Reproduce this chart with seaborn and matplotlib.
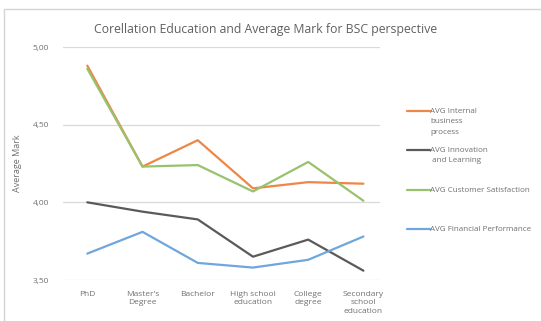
import matplotlib
matplotlib.use("Agg")
import matplotlib.pyplot as plt
import seaborn as sns
import pandas as pd
from matplotlib.lines import Line2D
from matplotlib.patches import Rectangle
from matplotlib.ticker import FuncFormatter

categories = ["PhD", "Master's\nDegree", "Bachelor", "High school\neducation",
              "College\ndegree", "Secondary\nschool\neducation"]
internal = [4.88, 4.23, 4.40, 4.09, 4.13, 4.12]
innovation = [4.00, 3.94, 3.89, 3.65, 3.76, 3.56]
customer = [4.86, 4.23, 4.24, 4.07, 4.26, 4.01]
financial = [3.67, 3.81, 3.61, 3.58, 3.63, 3.78]
series_names = ["AVG Internal\nbusiness\nprocess", "AVG Innovation\n and Learning",
                "AVG Customer Satisfaction", "AVG Financial Performance"]
yticks = [3.5, 4.0, 4.5, 5.0]

colors = ["#EE8646", "#5A5A5A", "#98C26E", "#6FA7DC"]

sns.set_theme(style="white")
plt.rcParams['font.family'] = ['Open Sans', 'DejaVu Sans']

rows = []
for name, vals in zip(series_names, [internal, innovation, customer, financial]):
    for c, v in zip(categories, vals):
        rows.append({"cat": c, "val": v, "series": name})
df = pd.DataFrame(rows)

fig = plt.figure(figsize=(5.41, 3.21), dpi=100)
fig.patch.set_facecolor("white")
ax = fig.add_axes([63/541, 1 - 280/321, (380 - 63)/541, (280 - 47)/321])

sns.lineplot(data=df, x="cat", y="val", hue="series", palette=colors,
             sort=False, linewidth=1.6, ax=ax, legend=False)

ax.set_ylim(3.5, 5.0)
ax.set_xlim(-0.44, 5.3)
ax.set_yticks(yticks)
ax.yaxis.set_major_formatter(FuncFormatter(lambda v, p: f"{v:.2f}".replace(".", ",")))
ax.grid(axis="y", color="#D9D9D9", linewidth=0.9)
ax.set_axisbelow(True)
for s in ax.spines.values():
    s.set_visible(False)
ax.tick_params(axis="both", length=0, labelsize=6, labelcolor="#707070")
ax.tick_params(axis="y", pad=10)
ax.tick_params(axis="x", pad=8)
ax.set_xlabel("")
ax.set_ylabel("Average Mark", fontsize=6.5, color="#707070", labelpad=8)
for lbl in ax.get_xticklabels():
    lbl.set_linespacing(1.25)

fig.text(266/541, 1 - 30/321, "Corellation Education and Average Mark for BSC perspective",
         ha="center", va="center", fontsize=8.8, color="#606060")

# legend
leg_y = [111, 150, 190, 229]
for name, col, y in zip(series_names, colors, leg_y):
    fig.add_artist(Line2D([407/541, 430/541], [1 - y/321, 1 - y/321],
                          color=col, linewidth=1.6, transform=fig.transFigure))
    fig.text(430/541, 1 - y/321 + 0.009, name, ha="left", va="top",
             fontsize=5.8, color="#707070", linespacing=1.65)

fig.add_artist(Rectangle((4/541, -0.02), 1.0, 1 - 9/321 + 0.02,
                         transform=fig.transFigure, fill=False,
                         edgecolor="#D4D4D4", linewidth=1.0))

fig.savefig("out.png", dpi=100)
